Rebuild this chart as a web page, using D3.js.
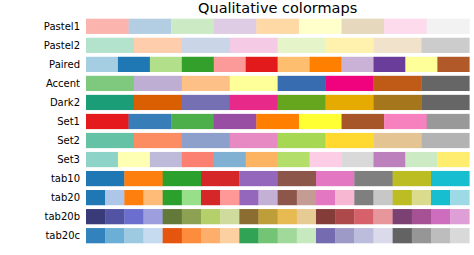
<!DOCTYPE html>
<html>
<head>
<meta charset="utf-8">
<script src="https://cdn.jsdelivr.net/npm/d3@7"></script>
<style>
  html, body { margin: 0; padding: 0; background: #fff; }
  svg text { font-family: "DejaVu Sans", sans-serif; fill: #000; }
</style>
</head>
<body>
<div id="chart"></div>
<script>
// colormap names (row labels)
var cmapNames = ["Pastel1", "Pastel2", "Paired", "Accent", "Dark2", "Set1", "Set2", "Set3", "tab10", "tab20", "tab20b", "tab20c"];

// colors of each colormap
var Pastel1 = ["#fbb4ae","#b3cde3","#ccebc5","#decbe4","#fed9a6","#ffffcc","#e5d8bd","#fddaec","#f2f2f2"];
var Pastel2 = ["#b3e2cd","#fdcdac","#cbd5e8","#f4cae4","#e6f5c9","#fff2ae","#f1e2cc","#cccccc"];
var Paired = ["#a6cee3","#1f78b4","#b2df8a","#33a02c","#fb9a99","#e31a1c","#fdbf6f","#ff7f00","#cab2d6","#6a3d9a","#ffff99","#b15928"];
var Accent = ["#7fc97f","#beaed4","#fdc086","#ffff99","#386cb0","#f0027f","#bf5b17","#666666"];
var Dark2 = ["#1b9e77","#d95f02","#7570b3","#e7298a","#66a61e","#e6ab02","#a6761d","#666666"];
var Set1 = ["#e41a1c","#377eb8","#4daf4a","#984ea3","#ff7f00","#ffff33","#a65628","#f781bf","#999999"];
var Set2 = ["#66c2a5","#fc8d62","#8da0cb","#e78ac3","#a6d854","#ffd92f","#e5c494","#b3b3b3"];
var Set3 = ["#8dd3c7","#ffffb3","#bebada","#fb8072","#80b1d3","#fdb462","#b3de69","#fccde5","#d9d9d9","#bc80bd","#ccebc5","#ffed6f"];
var tab10 = ["#1f77b4","#ff7f0e","#2ca02c","#d62728","#9467bd","#8c564b","#e377c2","#7f7f7f","#bcbd22","#17becf"];
var tab20 = ["#1f77b4","#aec7e8","#ff7f0e","#ffbb78","#2ca02c","#98df8a","#d62728","#ff9896","#9467bd","#c5b0d5","#8c564b","#c49c94","#e377c2","#f7b6d2","#7f7f7f","#c7c7c7","#bcbd22","#dbdb8d","#17becf","#9edae5"];
var tab20b = ["#393b79","#5254a3","#6b6ecf","#9c9ede","#637939","#8ca252","#b5cf6b","#cedb9c","#8c6d31","#bd9e39","#e7ba52","#e7cb94","#843c39","#ad494a","#d6616b","#e7969c","#7b4173","#a55194","#ce6dbd","#de9ed6"];
var tab20c = ["#3182bd","#6baed6","#9ecae1","#c6dbef","#e6550d","#fd8d3c","#fdae6b","#fdd0a2","#31a354","#74c476","#a1d99b","#c7e9c0","#756bb1","#9e9ac8","#bcbddc","#dadaeb","#636363","#969696","#bdbdbd","#d9d9d9"];

var cmapColors = [Pastel1, Pastel2, Paired, Accent, Dark2, Set1, Set2, Set3, tab10, tab20, tab20b, tab20c];

var titleText = "Qualitative colormaps";

//////////////////////描画//////////////////////
var width = 474;
var height = 255;
var x_min = 86;
var x_max = 469.3;

var svg = d3.select("#chart").append("svg").attr("width", width).attr("height", height);

// 行のスケール
var yScale = d3.scaleBand()
  .domain(cmapNames)
  .range([18.7, 243.3])
  .paddingInner(0.2)
  .paddingOuter(0);

svg.append("text")
  .attr("x", (x_min + x_max) / 2)
  .attr("y", 12.7)
  .attr("text-anchor", "middle")
  .style("font-size", "14.5px")
  .text(titleText);

cmapNames.forEach(function (name, i) {
  var colors = cmapColors[i];
  var xScale = d3.scaleBand()
    .domain(d3.range(colors.length))
    .range([x_min, x_max]);

  var g = svg.append("g").attr("transform", "translate(0," + yScale(name) + ")");
  g.selectAll("rect")
    .data(colors)
    .enter()
    .append("rect")
    .attr("x", function (d, k) { return xScale(k); })
    .attr("y", 0)
    .attr("width", xScale.bandwidth() + 0.3)
    .attr("height", yScale.bandwidth())
    .attr("fill", function (d) { return d; });

  svg.append("text")
    .attr("x", 80)
    .attr("y", yScale(name) + yScale.bandwidth() / 2)
    .attr("dy", "0.35em")
    .attr("text-anchor", "end")
    .style("font-size", "10px")
    .text(name);
});
</script>
</body>
</html>
